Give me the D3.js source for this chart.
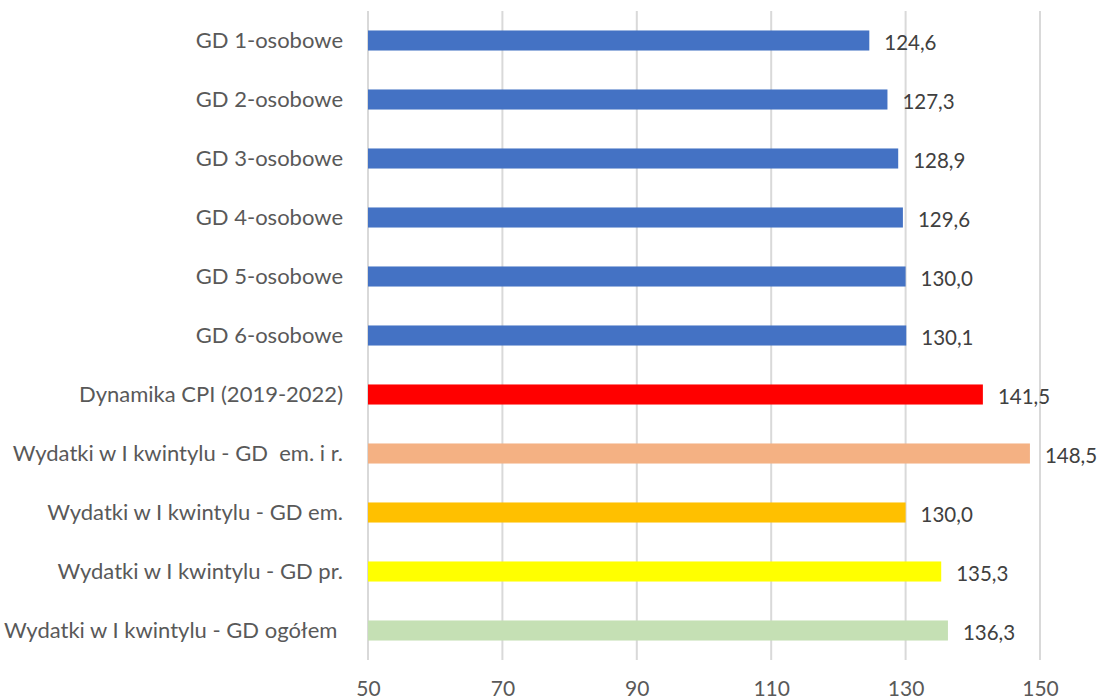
<!DOCTYPE html>
<html><head><meta charset="utf-8">
<script src="https://cdn.jsdelivr.net/npm/d3@7"></script>
<style>body{margin:0;background:#fff}svg{display:block}text{font-family:Lato,"Open Sans",sans-serif}</style>
</head><body><svg id="c" width="1099" height="699"></svg>
<script>
const categories = ["GD 1-osobowe","GD 2-osobowe","GD 3-osobowe","GD 4-osobowe","GD 5-osobowe","GD 6-osobowe","Dynamika CPI (2019-2022)","Wydatki w I kwintylu - GD  em. i r.","Wydatki w I kwintylu - GD em.","Wydatki w I kwintylu - GD pr.","Wydatki w I kwintylu - GD ogółem "];
const values = [124.6,127.3,128.9,129.6,130.0,130.1,141.5,148.5,130.0,135.3,136.3];
const colors = ["#4472C4","#4472C4","#4472C4","#4472C4","#4472C4","#4472C4","#FF0000","#F4B183","#FFC000","#FFFF00","#C5E0B4"];
const ticks = [50,70,90,110,130,150];

const svg = d3.select("#c");
const x = d3.scaleLinear().domain([50,150]).range([368,1040]);
const y = d3.scaleBand().domain(categories).range([11,660]).paddingInner(0.66).paddingOuter(0.33);

svg.append("g").selectAll("line").data(ticks).join("line")
  .attr("x1",d=>x(d)).attr("x2",d=>x(d)).attr("y1",11).attr("y2",660)
  .attr("stroke","#d9d9d9").attr("stroke-width",2);

svg.append("g").selectAll("rect").data(values).join("rect")
  .attr("x",x(50)).attr("y",(d,i)=>y(categories[i]))
  .attr("width",d=>x(d)-x(50)).attr("height",y.bandwidth())
  .attr("fill",(d,i)=>colors[i]);

const fmt = d=>d.toFixed(1).replace(".",",");
svg.append("g").selectAll("text").data(values).join("text")
  .attr("x",d=>x(d)+15).attr("y",(d,i)=>y(categories[i])+y.bandwidth()/2+2)
  .attr("dy","0.35em").attr("font-size",20.5).attr("fill","#404040").text(fmt);

svg.append("g").selectAll("text").data(categories).join("text")
  .attr("x",343).attr("y",d=>y(d)+y.bandwidth()/2).attr("dy","0.35em")
  .attr("text-anchor","end").attr("font-size",22).attr("fill","#595959")
  .style("white-space","pre").text(d=>d);

const ax = d3.axisBottom(x).tickValues(ticks).tickSize(0).tickPadding(0);
const g = svg.append("g").attr("transform","translate(0,681)").call(ax);
g.select(".domain").remove();
g.selectAll("text").attr("font-size",21).attr("fill","#595959").attr("font-family",'Lato,"Open Sans",sans-serif');
</script></body></html>
